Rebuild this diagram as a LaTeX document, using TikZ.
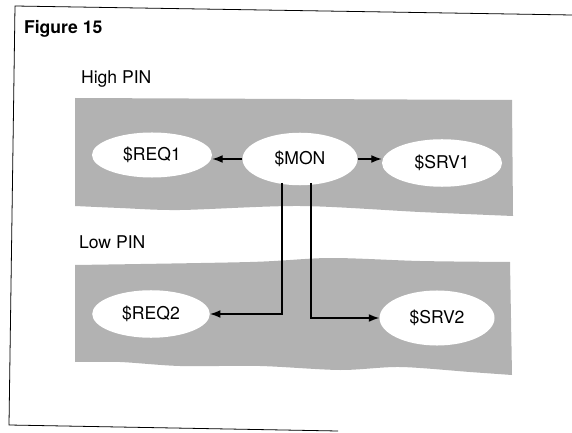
\documentclass[tikz,border=0pt]{standalone}
\usepackage{fontspec}
\setmainfont{TeX Gyre Heros}
\usetikzlibrary{arrows.meta,shapes.geometric}

\begin{document}
\begin{tikzpicture}[x=0.04cm,y=-0.04cm,
  every node/.style={font=\fontsize{20}{24}\selectfont},
  proc/.style={ellipse,fill=white,inner sep=0pt},
  band/.style={fill=black!30},
  link/.style={-{Latex[length=12pt,width=9pt]},line width=1.6pt}]
\useasboundingbox (0,0) rectangle (572,433);
% frame
\draw[line width=0.9pt] (572,15) -- (15,6) -- (9,425) -- (338,431);
\node[anchor=west,font=\fontsize{20}{24}\selectfont\bfseries] (T) at (21,29) {Figure 15};
% PIN bands
\node[anchor=west] (H) at (78,79) {High PIN};
\node[anchor=west] (L) at (76,242) {Low PIN};
\fill[band] plot[smooth] coordinates {(75,98) (300,99) (512,100)}
  -- plot[smooth] coordinates {(513,216) (420,212) (300,206) (180,210) (120,208) (75,206)} -- cycle;
\fill[band] plot[smooth] coordinates {(75,265) (250,262) (330,258) (420,261) (510,262)}
  -- plot[smooth] coordinates {(512,375) (470,372) (400,367) (340,370) (260,366) (180,366) (120,362) (75,362)} -- cycle;
% tasks
\node[proc,minimum width=4.8cm,minimum height=1.8cm] (R1) at (152,155) {\$REQ1};
\node[proc,minimum width=4.6cm,minimum height=2.1cm] (M) at (300,159) {\$MON};
\node[proc,minimum width=4.8cm,minimum height=1.9cm] (S1) at (442,163) {\$SRV1};
\node[proc,minimum width=4.7cm,minimum height=1.9cm] (R2) at (151,314) {\$REQ2};
\node[proc,minimum width=4.6cm,minimum height=2.2cm] (S2) at (437,318) {\$SRV2};
\coordinate (m1) at (282,183);
\coordinate (m2) at (311,183);
\path[link]
(M.west) edge (M.west -| R1.east)
(M.east) edge (M.east -| S1.west);
\draw[link] (m1) |- (R2.east);
\draw[link] (m2) |- (S2.west);
\end{tikzpicture}
\end{document}
